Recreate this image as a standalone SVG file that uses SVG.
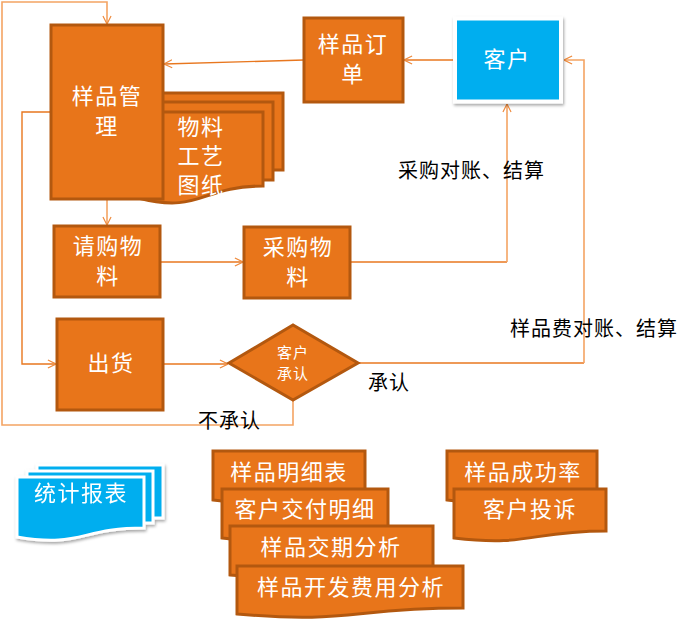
<svg xmlns="http://www.w3.org/2000/svg" width="692" height="621" viewBox="0 0 692 621">
<defs>
<style>
.box{fill:#E8751A;stroke:#B3580F;stroke-width:3}
.wt{fill:#FFFFFF;font-family:"Noto Sans CJK SC","Noto Sans",sans-serif;font-size:22px;letter-spacing:1.5px;text-anchor:middle}
.bt{fill:#000000;font-family:"Noto Sans CJK SC","Noto Sans",sans-serif;font-size:20px;letter-spacing:1px}
.ln{fill:none;stroke:#F4A463;stroke-width:1.6}
.ld{fill:none;stroke:#E8771F;stroke-width:1.4}
.blue{fill:#00AEEF;stroke:#FFFFFF;stroke-width:3}
</style>
<marker id="ah" viewBox="0 0 10 10" refX="9.5" refY="5" markerWidth="9" markerHeight="10" markerUnits="userSpaceOnUse" orient="auto">
<path d="M0.5,0.5 L9.5,5 L0.5,9.5" fill="none" stroke="#EE8A3C" stroke-width="1.3"/>
</marker>
<filter id="sh" x="-10%" y="-10%" width="125%" height="130%">
<feDropShadow dx="1" dy="2" stdDeviation="1.5" flood-color="#000000" flood-opacity="0.35"/>
</filter>
</defs>

<g id="connectors">
<path class="ln" d="M293,400 V425 H2 V2 H107 V24" marker-end="url(#ah)"/>
<path class="ld" d="M51,112 H22 V364 H56" marker-end="url(#ah)"/>
<path class="ln" d="M107,200 V225" marker-end="url(#ah)"/>
<path class="ld" d="M161,262 H243" marker-end="url(#ah)"/>
<path class="ld" d="M351,262 H507"/>
<path class="ln" d="M507,262 V104" marker-end="url(#ah)"/>
<path class="ld" d="M164,364 H228" marker-end="url(#ah)"/>
<path class="ld" d="M358,363 H584"/>
<path class="ln" d="M584,363 V60 H564" marker-end="url(#ah)"/>
<path class="ld" d="M453,60 H404" marker-end="url(#ah)"/>
<path class="ld" d="M304,60 L164,64" marker-end="url(#ah)"/>
</g>

<g id="node-materials">
<rect class="box" x="160" y="93" width="123" height="77"/>
<rect class="box" x="150" y="102" width="123" height="78"/>
<path class="box" d="M138,112 H263 V186 C200.5,186 200.5,214 138,198 Z"/>
<text class="wt" x="201" y="135">物料</text>
<text class="wt" x="201" y="164">工艺</text>
<text class="wt" x="201" y="193">图纸</text>
</g>

<g id="node-sample-mgmt">
<rect class="box" x="51" y="25" width="112" height="174"/>
<text class="wt" x="107" y="104">样品管</text>
<text class="wt" x="107" y="134">理</text>
</g>

<g id="node-order">
<rect class="box" x="304" y="18" width="99" height="84"/>
<text class="wt" x="353" y="52">样品订</text>
<text class="wt" x="353" y="82">单</text>
</g>

<g id="node-customer">
<rect x="455" y="18.5" width="106" height="83" fill="#00AEEF" stroke="#FFFFFF" stroke-width="4" filter="url(#sh)"/>
<text class="wt" x="507" y="67">客户</text>
</g>

<g id="node-request">
<rect class="box" x="54" y="226" width="106" height="71"/>
<text class="wt" x="108" y="254">请购物</text>
<text class="wt" x="108" y="284">料</text>
</g>

<g id="node-purchase">
<rect class="box" x="244" y="227" width="106" height="71"/>
<text class="wt" x="298" y="255">采购物</text>
<text class="wt" x="298" y="285">料</text>
</g>

<g id="node-ship">
<rect class="box" x="57" y="319" width="106" height="91"/>
<text class="wt" x="111" y="371">出货</text>
</g>

<g id="node-decision">
<path class="box" d="M229,363 L293,325 L358,363 L293,400 Z"/>
<text class="wt" x="293" y="358" style="font-size:15px;letter-spacing:1px">客户</text>
<text class="wt" x="293" y="379" style="font-size:15px;letter-spacing:1px">承认</text>
</g>

<g id="labels">
<text class="bt" x="398" y="178">采购对账、结算</text>
<text class="bt" x="510" y="336">样品费对账、结算</text>
<text class="bt" x="368" y="390">承认</text>
<text class="bt" x="198" y="428">不承认</text>
</g>

<g id="node-reports" filter="url(#sh)">
<rect class="blue" x="37" y="465" width="126" height="53"/>
<rect class="blue" x="27" y="471" width="126" height="52"/>
<path class="blue" d="M17,477 H144 V528 C80.5,528 80.5,548 17,537 Z"/>
<text class="wt" x="81" y="501">统计报表</text>
</g>

<g id="node-detail">
<path class="box" d="M213,451 H365 V493 C289,493 289,509 213,500 Z"/>
<text class="wt" x="289" y="480">样品明细表</text>
</g>
<g id="node-delivery">
<path class="box" d="M222,489 H388 V531 C305,531 305,547 222,538 Z"/>
<text class="wt" x="305" y="517">客户交付明细</text>
</g>
<g id="node-leadtime">
<path class="box" d="M230,526 H433 V568 C331.5,568 331.5,584 230,575 Z"/>
<text class="wt" x="331" y="555">样品交期分析</text>
</g>
<g id="node-cost">
<path class="box" d="M237,566 H463 V608 C350,608 350,624 237,614 Z"/>
<text class="wt" x="351" y="595">样品开发费用分析</text>
</g>
<g id="node-success">
<path class="box" d="M447,451 H597 V493 C522,493 522,509 447,500 Z"/>
<text class="wt" x="523" y="480">样品成功率</text>
</g>
<g id="node-complaint">
<path class="box" d="M454,489 H606 V531 C530,531 530,547 454,538 Z"/>
<text class="wt" x="530" y="517">客户投诉</text>
</g>
</svg>
